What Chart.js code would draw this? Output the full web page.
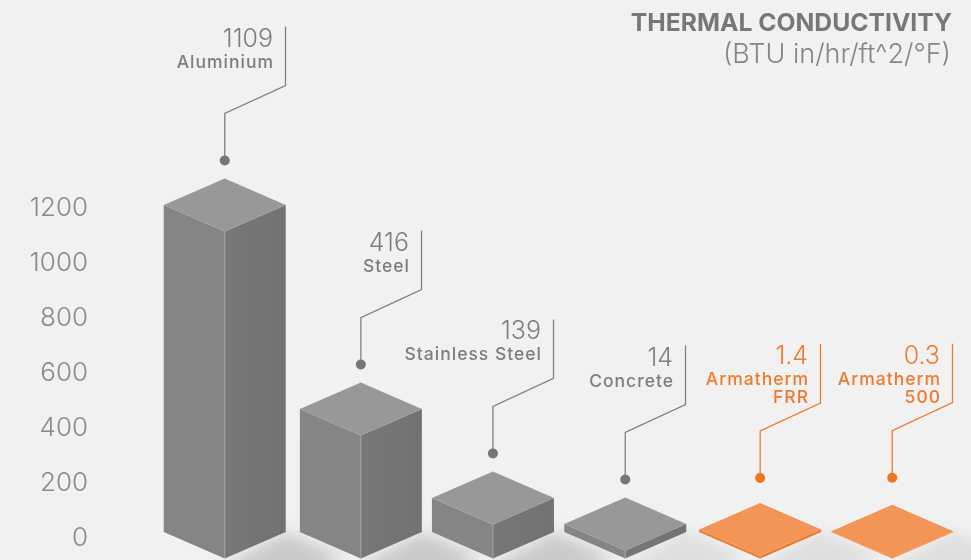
<!DOCTYPE html>
<html>
<head>
<meta charset="utf-8">
<style>
  html, body { margin: 0; padding: 0; background: #f1f1f1; overflow: hidden; }
  canvas { display: block; }
</style>
<script src="https://cdn.jsdelivr.net/npm/chart.js@4"></script>
</head>
<body>
<canvas id="myChart" width="971" height="560"></canvas>
<script>
// data
const categories = [['Aluminium'], ['Steel'], ['Stainless Steel'], ['Concrete'], ['Armatherm', 'FRR'], ['Armatherm', '500']];
const barHeights = [1189, 447, 124, 29, 9, 3];
const valueLabels = ['1109', '416', '139', '14', '1.4', '0.3'];
const tickValues = [0, 200, 400, 600, 800, 1000, 1200];
const titleText = 'THERMAL CONDUCTIVITY';
const unitText = '(BTU in/hr/ft^2/°F)';

// drawing settings
const font = 'Inter, "Noto Sans", sans-serif';
const halfWidth = 61;
const halfDepth = 26.5;
const xNudge = [0, 2.6, 1.2, 0, 1.4, 0];
const dotGap = [18, 18, 18, 18, 25, 27];
const grey = { top: '#989898', left: '#858585', right: '#777777', rightEnd: '#727272', edge: '#a3a3a3', line: '#808080', dot: '#767676', text: '#7e7e7e', name: '#7d7d7d' };
const orange = { top: '#f39556', left: '#ef7a2a', right: '#ee7526', rightEnd: '#ee7526', edge: '#f39556', line: '#f07a2d', dot: '#ef7424', text: '#f07a2d', name: '#f07a2d' };

function poly(c, pts, fill) {
    c.beginPath();
    pts.forEach((p, i) => i ? c.lineTo(p[0], p[1]) : c.moveTo(p[0], p[1]));
    c.closePath();
    c.fillStyle = fill;
    c.fill();
}

const isoBars = {
    id: 'isoBars',
    afterDatasetsDraw(chart) {
        const c = chart.ctx;
        const bars = chart.getDatasetMeta(0).data;
        c.save();

        // soft floor shadows
        c.filter = 'blur(8px)';
        bars.forEach((bar, i) => {
            const cx = bar.x + xNudge[i];
            const alpha = i < 3 ? 0.16 : 0.08;
            poly(c, [[cx, 566], [cx + halfWidth, 532], [cx + halfWidth + 60, 558], [cx + 50, 590]], 'rgba(0,0,0,' + alpha + ')');
        });
        c.filter = 'none';

        bars.forEach((bar, i) => {
            const cx = bar.x + xNudge[i];
            const pal = i >= 4 ? orange : grey;
            const sideTop = bar.y - 6;
            const sideBot = bar.base - 6;
            const l = cx - halfWidth;
            const r = cx + halfWidth;
            const apex = sideTop - halfDepth;

            poly(c, [[l, sideTop], [cx, sideTop + halfDepth], [cx, sideBot + halfDepth], [l, sideBot]], pal.left);
            const g = c.createLinearGradient(cx, 0, r, 0);
            g.addColorStop(0, pal.right);
            g.addColorStop(1, pal.rightEnd);
            poly(c, [[cx, sideTop + halfDepth], [r, sideTop], [r, sideBot], [cx, sideBot + halfDepth]], g);
            poly(c, [[cx, apex], [r, sideTop], [cx, sideTop + halfDepth], [l, sideTop]], pal.top);

            // light edges
            c.strokeStyle = pal.edge;
            c.lineWidth = 1;
            c.beginPath();
            c.moveTo(cx, sideBot + halfDepth);
            c.lineTo(cx, sideTop + halfDepth);
            c.stroke();

            // leader line
            const dotY = apex - dotGap[i];
            const lineX = Math.round(r - 1) + 0.5;
            const lowY = dotY - 47;
            const highY = lowY - 28;
            const topY = highY - 59;
            c.strokeStyle = pal.line;
            c.lineWidth = 1.3;
            c.beginPath();
            c.moveTo(lineX, topY);
            c.lineTo(lineX, highY);
            c.lineTo(cx, lowY);
            c.lineTo(cx, dotY);
            c.stroke();
            c.fillStyle = pal.dot;
            c.beginPath();
            c.arc(cx, dotY, 5, 0, Math.PI * 2);
            c.fill();

            // labels
            const textX = lineX - 12.5;
            c.textAlign = 'right';
            c.textBaseline = 'alphabetic';
            c.fillStyle = pal.text;
            c.font = '300 25px ' + font;
            c.letterSpacing = '0px';
            c.fillText(valueLabels[i], textX, topY + 20);
            c.fillStyle = pal.name;
            c.font = '500 17.5px ' + font;
            c.letterSpacing = '1px';
            chart.data.labels[i].forEach((line, n) => c.fillText(line, textX + 1, topY + 41 + n * 18));
        });

        // title block
        c.textAlign = 'right';
        c.letterSpacing = '0px';
        c.fillStyle = '#777777';
        c.font = '700 24.7px ' + font;
        c.fillText(titleText, 952, 31);
        c.fillStyle = '#858585';
        c.font = '300 27px ' + font;
        c.fillText(unitText, 951, 63);
        c.restore();
    }
};

const ctx = document.getElementById('myChart').getContext('2d');
const myChart = new Chart(ctx, {
    type: 'bar',
    data: {
        labels: categories,
        datasets: [{
            data: barHeights,
            backgroundColor: 'rgba(0,0,0,0)',
            categoryPercentage: 0.9,
            barPercentage: 0.9
        }]
    },
    options: {
        responsive: false,
        animation: false,
        events: [],
        layout: { padding: { top: 208, bottom: 22, left: 0, right: 12 } },
        plugins: { legend: { display: false }, tooltip: { enabled: false } },
        scales: {
            x: { display: false },
            y: {
                min: 0,
                max: 1200,
                afterFit(scale) {
                    scale.width = 158;
                    scale.paddingTop = 0;
                    scale.paddingBottom = 0;
                },
                afterBuildTicks(scale) { scale.ticks = tickValues.map(v => ({ value: v })); },
                grid: { display: false, drawTicks: false },
                border: { display: false },
                ticks: {
                    padding: 70,
                    color: '#8a8a8a',
                    font: { family: font, size: 26, weight: '300' },
                    callback: v => String(v)
                }
            }
        }
    },
    plugins: [isoBars]
});
</script>
</body>
</html>
